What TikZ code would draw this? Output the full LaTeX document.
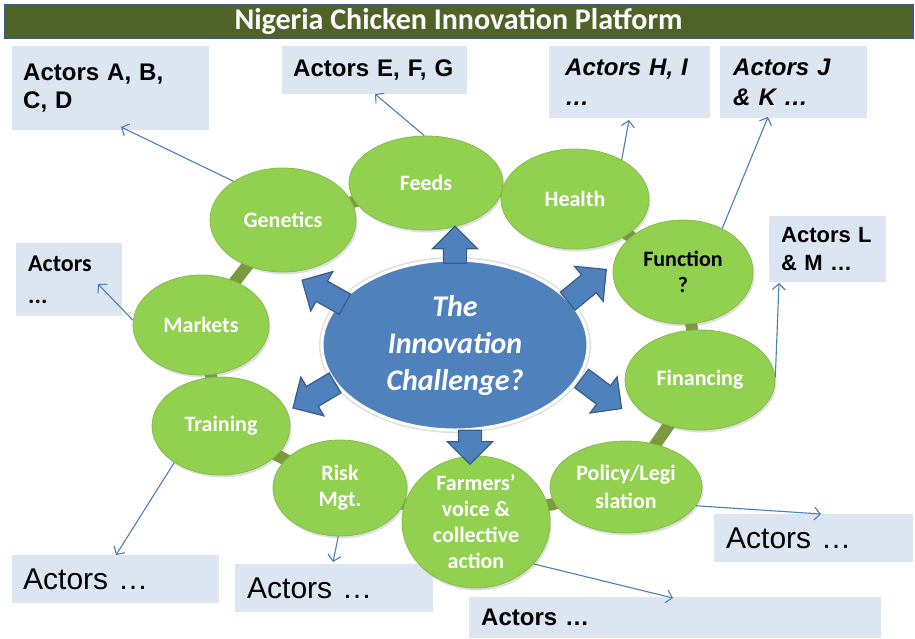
\documentclass[tikz,border=0pt]{standalone}
\usepackage{fontspec}
\setmainfont{Carlito}
\newfontfamily\arialf{Liberation Sans}
\usetikzlibrary{shapes.geometric,shapes.arrows,arrows.meta,shadows,calc}

\definecolor{leafgreen}{HTML}{92D050}
\definecolor{leafedge}{HTML}{86BC4A}
\definecolor{ringolive}{HTML}{7A9A3C}
\definecolor{titlefill}{HTML}{4F6228}
\definecolor{titleedge}{HTML}{3A5A84}
\definecolor{ctrblue}{HTML}{4F81BD}
\definecolor{arrowedge}{HTML}{385D8A}
\definecolor{boxblue}{HTML}{DCE6F2}
\definecolor{linkblue}{HTML}{4A7EBB}

\pgfdeclarelayer{bg}
\pgfsetlayers{bg,main}

\tikzset{
  leaf/.style={ellipse, fill=leafgreen, draw=leafedge, line width=0.8pt,
    inner sep=0pt,
    drop shadow={opacity=0.25, shadow xshift=1.5pt, shadow yshift=-2.5pt}},
  leaftext/.style={text=white, font=\bfseries\fontsize{22}{26}\selectfont,
    align=center, inner sep=0pt},
  ring/.style={draw=ringolive, line width=12pt},
  actorbox/.style={fill=boxblue, anchor=north west, align=left, inner ysep=0pt},
  boldA/.style={font=\arialf\bfseries\fontsize{24}{28}\selectfont},
  italA/.style={font=\arialf\bfseries\itshape\fontsize{24}{30}\selectfont},
  plainA/.style={font=\arialf\fontsize{30}{34}\selectfont},
  barrow/.style={single arrow, fill=ctrblue, draw=arrowedge, line width=1.2pt,
    inner xsep=0pt, inner ysep=11pt, single arrow head extend=11pt,
    single arrow tip angle=90, minimum height=#1},
  link/.style={draw=linkblue, line width=1.1pt,
    -{Straight Barb[length=6pt,width=13pt]}},
}

\begin{document}
\begin{tikzpicture}[x=1pt,y=-1pt]
\useasboundingbox (0,0) rectangle (915,638);

% title bar
\node[fill=titlefill, draw=titleedge, line width=2pt, anchor=north west,
  minimum width=908, minimum height=33, inner sep=0pt, text=white,
  font=\bfseries\fontsize{30}{32}\selectfont] (title) at (3.5,4)
  {Nigeria Chicken Innovation Platform};

% actor boxes
\node[actorbox, boldA, inner xsep=11pt, text width=175, minimum height=84] (bA) at (12,46) {Actors A, B,\\C, D};
\node[actorbox, boldA, inner xsep=11pt, text width=163, minimum height=48] (bE) at (282,46) {Actors E, F, G};
\node[actorbox, italA, inner xsep=16pt, text width=129, minimum height=72] (bH) at (549,46) {Actors H, I\\…};
\node[actorbox, italA, inner xsep=13pt, text width=121, minimum height=72] (bJ) at (720,46) {Actors J\\\& K …};
\node[actorbox, font=\arialf\bfseries\fontsize{22}{28}\selectfont, inner xsep=12pt, text width=93, minimum height=66] (bL) at (769,216) {Actors L\\\& M …};
\node[actorbox, font=\bfseries\fontsize{24}{32}\selectfont, inner xsep=12pt, text width=82, minimum height=73] (bM) at (16,243) {Actors\\...};
\node[actorbox, plainA, inner xsep=11pt, text width=185, minimum height=48] (bT) at (12,555) {Actors …};
\node[actorbox, plainA, inner xsep=12pt, text width=174, minimum height=48] (bR) at (235,564) {Actors …};
\node[actorbox, plainA, inner xsep=12pt, text width=175, minimum height=48] (bP) at (714,514) {Actors …};
\node[actorbox, boldA, inner xsep=12pt, text width=388, minimum height=41] (bF) at (469,597) {Actors …};

% the ring of green themes
\node[leaf, minimum width=146, minimum height=104, label={[leaftext]center:Genetics}] (gen) at (283,220) {};
\node[leaf, minimum width=154, minimum height=94, label={[leaftext]center:Feeds}] (feed) at (426,183) {};
\node[leaf, minimum width=148, minimum height=100, label={[leaftext]center:Health}] (heal) at (575,199) {};
\node[leaf, minimum width=140, minimum height=104, label={[leaftext, text=black]center:Function\\?}] (func) at (683,272) {};
\node[leaf, minimum width=136, minimum height=100, label={[leaftext]center:Markets}] (mark) at (201,325) {};
\node[leaf, minimum width=150, minimum height=100, label={[leaftext]center:Financing}] (fin) at (700,380) {};
\node[leaf, minimum width=138, minimum height=98, label={[leaftext]center:Training}] (train) at (221,426) {};
\node[leaf, minimum width=134, minimum height=96, label={[leaftext]center:Risk\\Mgt.}] (risk) at (340,488) {};
\node[leaf, minimum width=152, minimum height=92, label={[leaftext, font=\bfseries\fontsize{22}{28}\selectfont]center:Policy/Legi\\slation}] (pol) at (626,487) {};
\node[leaf, minimum width=148, minimum height=132, label={[leaftext]center:Farmers’\\voice \&\\collective\\action}] (farm) at (476,522) {};

% olive links joining neighbouring themes
\begin{pgfonlayer}{bg}
\draw[ring] (gen.center) -- (feed.center) -- (heal.center) -- (func.center)
  -- (fin.center) -- (pol.center) -- (farm.center) -- (risk.center)
  -- (train.center) -- (mark.center) -- cycle;
\end{pgfonlayer}

% central challenge
\node[ellipse, fill=ctrblue, draw=white, line width=3pt, inner sep=0pt,
  minimum width=266, minimum height=170,
  preaction={draw=black!25, line width=6pt, opacity=0.5},
  label={[text=white, font=\bfseries\itshape\fontsize{30}{37}\selectfont, align=center, inner sep=0pt]center:The\\Innovation\\Challenge?}]
  (chal) at (455,345) {};

% block arrows leaving the challenge
\node[barrow=37, rotate=90] (aup) at (455,250.5) {};
\node[barrow=34, rotate=-90] (adown) at (470,441.5) {};
\node[barrow=49, rotate=150.8] (aul) at (328.5,295) {};
\node[barrow=50, rotate=39.4] (aur) at (582.5,289) {};
\node[barrow=49, rotate=210.8] (all) at (319,392.5) {};
\node[barrow=50, rotate=-36.9] (alr) at (597,390) {};

% arrow ends inside or beside the actor boxes
\coordinate (tA) at (121,127);
\coordinate (tE) at (375,94);
\coordinate (tH) at (629,120);
\coordinate (tJ) at (768,117);
\coordinate (tL) at (779,283);
\coordinate (tM) at (98,284);
\coordinate (tT) at (116,555);
\coordinate (tR) at (333,562);
\coordinate (tF) at (673,598);
\coordinate (tP) at (821,514);

% links from themes to their actors
\draw[link] (gen.142) -- (tA);
\draw[link] (feed.92) -- (tE);
\draw[link] (heal.40) -- (tH);
\draw[link] (func.48) -- (tJ);
\draw[link] (fin.2) -- (tL);
\draw[link] (mark.176) -- (tM);
\draw[link] (train.218) -- (tT);
\draw[link] (risk.268) -- (tR);
\draw[link] (farm.-36) -- (tF);
\draw[link] (pol.-15) -- (tP);
\end{tikzpicture}
\end{document}
